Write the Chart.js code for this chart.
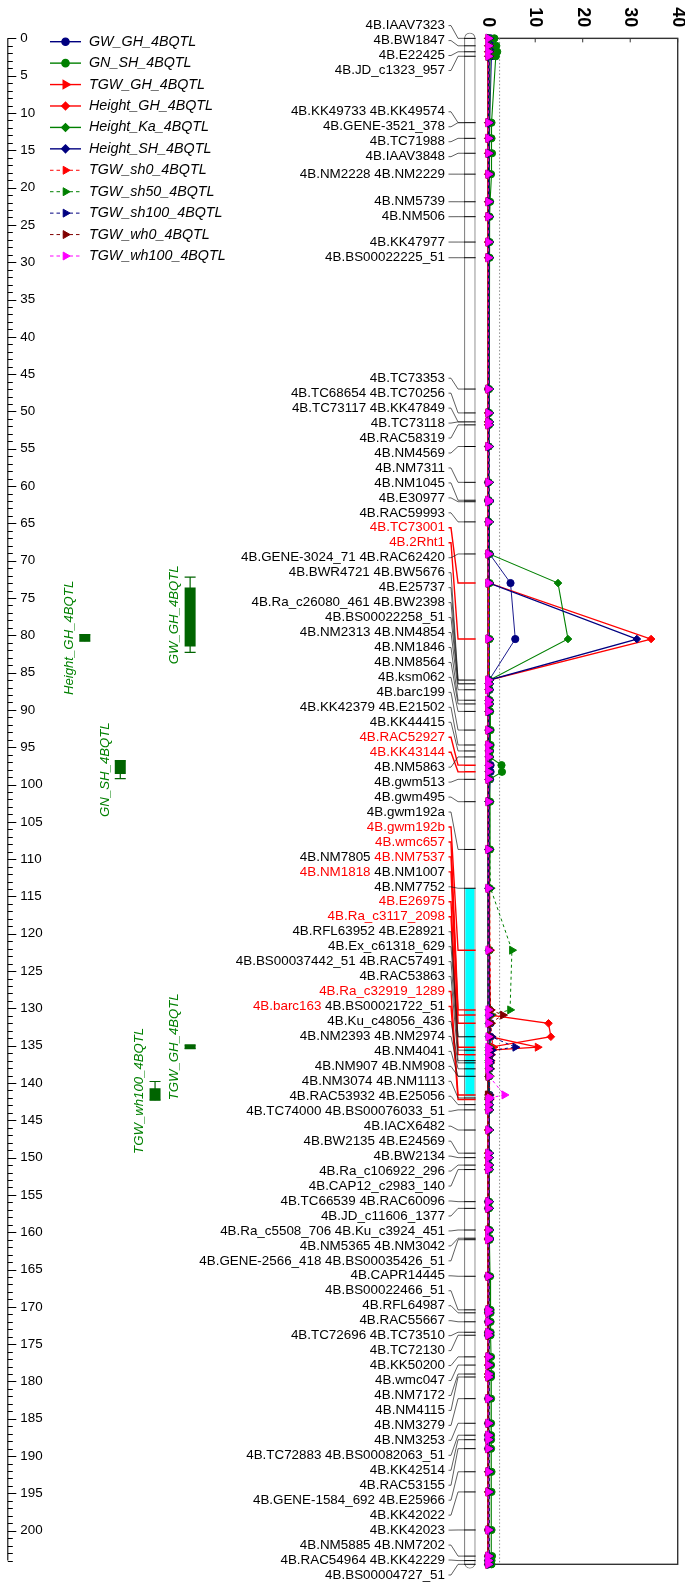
<!DOCTYPE html>
<html>
<head>
<meta charset="utf-8">
<script src="https://cdn.jsdelivr.net/npm/chart.js@4.4.1/dist/chart.umd.min.js"></script>
<style>
html, body { margin: 0; padding: 0; background: #fff; }
#wrap { position: relative; width: 685px; height: 1584px; }
</style>
</head>
<body>
<div id="wrap"><canvas id="map"></canvas></div>
<script>
// ---- marker label lines (top to bottom) and map position of each line (cM)
const markerLines = [
  ['4B.IAAV7323'], ['4B.BW1847'], ['4B.E22425'], ['4B.JD_c1323_957'],
  ['4B.KK49733', '4B.KK49574'], ['4B.GENE-3521_378'], ['4B.TC71988'], ['4B.IAAV3848'],
  ['4B.NM2228', '4B.NM2229'], ['4B.NM5739'], ['4B.NM506'], ['4B.KK47977'], ['4B.BS00022225_51'],
  ['4B.TC73353'], ['4B.TC68654', '4B.TC70256'], ['4B.TC73117', '4B.KK47849'], ['4B.TC73118'], ['4B.RAC58319'],
  ['4B.NM4569'], ['4B.NM7311'], ['4B.NM1045'], ['4B.E30977'], ['4B.RAC59993'],
  ['4B.TC73001'], ['4B.2Rht1'], ['4B.GENE-3024_71', '4B.RAC62420'], ['4B.BWR4721', '4B.BW5676'], ['4B.E25737'],
  ['4B.Ra_c26080_461', '4B.BW2398'], ['4B.BS00022258_51'], ['4B.NM2313', '4B.NM4854'], ['4B.NM1846'], ['4B.NM8564'],
  ['4B.ksm062'], ['4B.barc199'], ['4B.KK42379', '4B.E21502'], ['4B.KK44415'], ['4B.RAC52927'], ['4B.KK43144'],
  ['4B.NM5863'], ['4B.gwm513'], ['4B.gwm495'], ['4B.gwm192a'], ['4B.gwm192b'], ['4B.wmc657'],
  ['4B.NM7805', '4B.NM7537'], ['4B.NM1818', '4B.NM1007'], ['4B.NM7752'], ['4B.E26975'], ['4B.Ra_c3117_2098'],
  ['4B.RFL63952', '4B.E28921'], ['4B.Ex_c61318_629'], ['4B.BS00037442_51', '4B.RAC57491'], ['4B.RAC53863'],
  ['4B.Ra_c32919_1289'], ['4B.barc163', '4B.BS00021722_51'], ['4B.Ku_c48056_436'], ['4B.NM2393', '4B.NM2974'],
  ['4B.NM4041'], ['4B.NM907', '4B.NM908'], ['4B.NM3074', '4B.NM1113'], ['4B.RAC53932', '4B.E25056'],
  ['4B.TC74000', '4B.BS00076033_51'], ['4B.IACX6482'], ['4B.BW2135', '4B.E24569'], ['4B.BW2134'],
  ['4B.Ra_c106922_296'], ['4B.CAP12_c2983_140'], ['4B.TC66539', '4B.RAC60096'], ['4B.JD_c11606_1377'],
  ['4B.Ra_c5508_706', '4B.Ku_c3924_451'], ['4B.NM5365', '4B.NM3042'], ['4B.GENE-2566_418', '4B.BS00035426_51'],
  ['4B.CAPR14445'], ['4B.BS00022466_51'], ['4B.RFL64987'], ['4B.RAC55667'], ['4B.TC72696', '4B.TC73510'],
  ['4B.TC72130'], ['4B.KK50200'], ['4B.wmc047'], ['4B.NM7172'], ['4B.NM4115'], ['4B.NM3279'], ['4B.NM3253'],
  ['4B.TC72883', '4B.BS00082063_51'], ['4B.KK42514'], ['4B.RAC53155'], ['4B.GENE-1584_692', '4B.E25966'],
  ['4B.KK42022'], ['4B.KK42023'], ['4B.NM5885', '4B.NM7202'], ['4B.RAC54964', '4B.KK42229'], ['4B.BS00004727_51']
];
const markerCM = [
  0, 1.0, 1.8, 2.4, 11.3, 11.3, 13.4, 15.4, 18.2, 21.9, 23.9, 27.3, 29.4,
  47.0, 50.2, 51.4, 51.4, 51.8, 54.7, 59.5, 61.9, 62.1, 64.8,
  73.0, 80.5, 69.1, 86.0, 86.0, 86.5, 86.5, 87.3, 88.7, 89.2,
  90.2, 92.7, 94.7, 95.5, 97.4, 98.3, 96.3, 99.3, 102.3, 108.7,
  122.2, 130.2, 130.9, 132.0, 113.9, 135.2, 136.2, 133.8, 133.8, 135.6,
  137.0, 141.6, 142.2, 137.3, 138.1, 139.1, 139.1, 142.0, 142.9, 143.6,
  146.3, 149.4, 150.0, 151.0, 151.6, 155.9, 156.8, 159.7, 160.8, 161.0,
  165.9, 170.4, 170.8, 172.0, 173.4, 173.8, 176.7, 177.8, 179.0, 179.4,
  182.3, 185.6, 187.2, 187.8, 189.0, 192.1, 194.8, 199.9, 203.4, 204.0, 204.5
];
const redMarkers = ['4B.TC73001', '4B.2Rht1', '4B.RAC52927', '4B.KK43144', '4B.gwm192b', '4B.wmc657',
  '4B.NM7537', '4B.NM1818', '4B.E26975', '4B.Ra_c3117_2098', '4B.Ra_c32919_1289', '4B.barc163'];

// shaded QTL region on the chromosome (cM)
const qtlRegion = [113.9, 141.8];

// ---- QTL intervals (cM): box and support interval
const qtlNames  = ['Height_GH_4BQTL', 'GW_GH_4BQTL', 'GN_SH_4BQTL', 'TGW_GH_4BQTL', 'TGW_wh100_4BQTL'];
const qtlBoxFrom = [79.9, 73.6, 96.8, 134.9, 140.7];
const qtlBoxTo   = [80.8, 81.5, 98.6, 135.4, 142.3];
const qtlCiFrom  = [79.9, 72.2, 96.8, 134.9, 139.8];
const qtlCiTo    = [80.8, 82.3, 99.2, 135.4, 142.3];

// ---- LOD profiles, one value per scan position
const scanCM = [
  0, 1.0, 1.8, 2.4, 11.3, 13.4, 15.4, 18.2, 21.9, 23.9,
  27.3, 29.4, 47.0, 50.2, 51.4, 51.8, 54.7, 59.5, 61.9, 62.1,
  64.8, 69.1, 73.0, 80.5, 86.0, 86.5, 87.3, 88.7, 89.2, 90.2,
  92.7, 94.7, 95.5, 96.3, 97.4, 98.3, 99.3, 102.3, 108.7, 113.9,
  122.2, 130.2, 130.9, 132.0, 133.8, 135.2, 135.6, 136.2, 137.0, 137.3,
  138.1, 139.1, 141.6, 142.0, 142.2, 142.9, 143.6, 146.3, 149.4, 150.0,
  151.0, 151.6, 155.9, 156.8, 159.7, 160.8, 161.0, 165.9, 170.4, 170.8,
  172.0, 173.4, 173.8, 176.7, 177.8, 179.0, 179.4, 182.3, 185.6, 187.2,
  187.8, 189.0, 192.1, 194.8, 199.9, 203.4, 204.0, 204.5
];
const lodGW_GH = [
  0.6, 0.9, 1.0, 0.8, 0.4, 0.4, 0.3, 0.3, 0.2, 0.2,
  0.2, 0.2, 0.1, 0.2, 0.2, 0.2, 0.2, 0.1, 0.1, 0.2,
  0.2, 0.4, 4.8, 5.8, 0.3, 0.3, 0.4, 0.3, 0.3, 0.3,
  0.2, 0.3, 0.3, 0.4, 0.6, 0.6, 0.5, 0.3, 0.2, 0.2,
  0.3, 0.4, 0.5, 0.6, 0.6, 0.7, 0.6, 0.5, 0.4, 0.4,
  0.4, 0.3, 0.4, 0.4, 0.3, 0.3, 0.3, 0.2, 0.2, 0.2,
  0.2, 0.2, 0.1, 0.1, 0.2, 0.2, 0.2, 0.1, 0.1, 0.1,
  0.1, 0.1, 0.1, 0.2, 0.2, 0.2, 0.2, 0.1, 0.1, 0.1,
  0.1, 0.1, 0.2, 0.2, 0.1, 0.1, 0.1, 0.1
];
const lodGN_SH = [
  1.4, 1.8, 2.0, 1.7, 0.8, 0.8, 0.9, 0.7, 0.5, 0.4,
  0.4, 0.4, 0.3, 0.3, 0.3, 0.3, 0.2, 0.2, 0.2, 0.2,
  0.2, 0.3, 0.4, 0.4, 0.3, 0.3, 0.3, 0.4, 0.4, 0.5,
  0.6, 0.6, 0.5, 0.4, 2.9, 3.0, 0.4, 0.5, 0.5, 0.4,
  0.4, 0.4, 0.3, 0.3, 0.3, 0.3, 0.3, 0.3, 0.3, 0.3,
  0.3, 0.3, 0.2, 0.2, 0.2, 0.2, 0.2, 0.2, 0.2, 0.2,
  0.3, 0.3, 0.3, 0.3, 0.4, 0.4, 0.4, 0.5, 0.6, 0.6,
  0.6, 0.6, 0.6, 0.7, 0.7, 0.7, 0.7, 0.7, 0.7, 0.7,
  0.7, 0.7, 0.8, 0.8, 0.8, 0.9, 0.8, 0.8
];
const lodTGW_GH = [
  0.2, 0.2, 0.2, 0.2, 0.1, 0.1, 0.1, 0.1, 0.1, 0.1,
  0.1, 0.1, 0.1, 0.1, 0.1, 0.1, 0.1, 0.1, 0.1, 0.1,
  0.1, 0.1, 0.2, 0.2, 0.1, 0.1, 0.1, 0.1, 0.1, 0.1,
  0.1, 0.1, 0.1, 0.2, 0.2, 0.2, 0.2, 0.2, 0.2, 0.3,
  0.3, 0.4, 0.4, 0.5, 0.5, 10.5, 0.6, 0.4, 0.4, 0.3,
  0.3, 0.3, 0.2, 0.2, 0.2, 0.2, 0.2, 0.2, 0.1, 0.1,
  0.1, 0.1, 0.1, 0.1, 0.1, 0.1, 0.1, 0.1, 0.1, 0.1,
  0.1, 0.1, 0.1, 0.1, 0.1, 0.1, 0.1, 0.1, 0.1, 0.1,
  0.1, 0.1, 0.1, 0.1, 0.1, 0.1, 0.1, 0.1
];
const lodHeight_GH = [
  0.1, 0.1, 0.1, 0.1, 0.1, 0.1, 0.1, 0.1, 0.1, 0.1,
  0.1, 0.1, 0.1, 0.1, 0.1, 0.1, 0.1, 0.1, 0.1, 0.2,
  0.2, 0.2, 0.3, 34.4, 0.3, 0.2, 0.2, 0.2, 0.2, 0.2,
  0.2, 0.2, 0.2, 0.2, 0.2, 0.2, 0.2, 0.2, 0.2, 0.3,
  0.3, 0.5, 0.6, 12.8, 13.3, 0.5, 0.4, 0.3, 0.3, 0.3,
  0.3, 0.2, 0.2, 0.2, 0.2, 0.2, 0.2, 0.1, 0.1, 0.1,
  0.1, 0.1, 0.1, 0.1, 0.1, 0.1, 0.1, 0.1, 0.1, 0.1,
  0.1, 0.1, 0.1, 0.1, 0.1, 0.1, 0.1, 0.1, 0.1, 0.1,
  0.1, 0.1, 0.1, 0.1, 0.1, 0.1, 0.1, 0.1
];
const lodHeight_Ka = [
  0.4, 0.5, 0.5, 0.5, 0.4, 0.4, 0.4, 0.3, 0.3, 0.3,
  0.3, 0.3, 0.2, 0.2, 0.2, 0.2, 0.2, 0.2, 0.2, 0.3,
  0.3, 0.4, 14.8, 16.9, 0.4, 0.3, 0.3, 0.3, 0.3, 0.3,
  0.3, 0.3, 0.3, 0.3, 0.3, 0.3, 0.3, 0.2, 0.2, 0.2,
  0.2, 0.2, 0.2, 0.2, 0.2, 0.2, 0.2, 0.2, 0.2, 0.2,
  0.2, 0.2, 0.2, 0.2, 0.2, 0.2, 0.2, 0.2, 0.2, 0.2,
  0.2, 0.2, 0.2, 0.2, 0.2, 0.2, 0.2, 0.2, 0.2, 0.2,
  0.2, 0.2, 0.2, 0.2, 0.2, 0.2, 0.2, 0.2, 0.2, 0.2,
  0.2, 0.2, 0.2, 0.2, 0.2, 0.2, 0.2, 0.2
];
const lodHeight_SH = [
  0.2, 0.2, 0.2, 0.2, 0.2, 0.2, 0.2, 0.2, 0.2, 0.2,
  0.2, 0.2, 0.2, 0.2, 0.2, 0.2, 0.2, 0.2, 0.2, 0.2,
  0.2, 0.2, 0.3, 31.4, 0.3, 0.2, 0.2, 0.2, 0.2, 0.2,
  0.2, 0.2, 0.2, 0.2, 0.2, 0.2, 0.2, 0.2, 0.2, 0.2,
  0.3, 0.3, 0.3, 0.3, 0.3, 0.3, 0.3, 0.3, 0.3, 0.3,
  0.3, 0.3, 0.3, 0.3, 0.3, 0.3, 0.3, 0.3, 0.3, 0.3,
  0.2, 0.2, 0.2, 0.2, 0.2, 0.2, 0.2, 0.2, 0.2, 0.2,
  0.2, 0.2, 0.2, 0.2, 0.2, 0.2, 0.2, 0.2, 0.2, 0.2,
  0.2, 0.2, 0.2, 0.2, 0.2, 0.2, 0.2, 0.2
];
const lodTGW_sh0 = [
  0.3, 0.4, 0.4, 0.4, 0.3, 0.3, 0.3, 0.3, 0.2, 0.2,
  0.2, 0.2, 0.2, 0.2, 0.2, 0.2, 0.2, 0.2, 0.2, 0.2,
  0.2, 0.2, 0.2, 0.2, 0.2, 0.2, 0.2, 0.2, 0.2, 0.2,
  0.2, 0.2, 0.2, 0.3, 0.3, 0.3, 0.3, 0.3, 0.3, 0.4,
  0.5, 0.6, 0.9, 0.7, 0.8, 1.2, 0.8, 0.7, 0.6, 0.5,
  0.5, 0.4, 0.4, 0.4, 0.4, 0.3, 0.3, 0.3, 0.2, 0.2,
  0.2, 0.2, 0.2, 0.2, 0.2, 0.2, 0.2, 0.2, 0.2, 0.2,
  0.2, 0.2, 0.2, 0.2, 0.2, 0.2, 0.2, 0.2, 0.2, 0.2,
  0.2, 0.2, 0.2, 0.2, 0.2, 0.2, 0.2, 0.2
];
const lodTGW_sh50 = [
  0.3, 0.3, 0.3, 0.3, 0.3, 0.3, 0.3, 0.3, 0.3, 0.3,
  0.3, 0.3, 0.3, 0.3, 0.3, 0.3, 0.3, 0.3, 0.3, 0.3,
  0.3, 0.3, 0.3, 0.3, 0.3, 0.3, 0.3, 0.3, 0.3, 0.3,
  0.3, 0.3, 0.3, 0.3, 0.3, 0.3, 0.3, 0.4, 0.4, 0.6,
  5.1, 4.7, 0.7, 0.6, 0.5, 0.5, 0.5, 0.4, 0.4, 0.4,
  0.4, 0.4, 0.3, 0.3, 0.3, 0.3, 0.3, 0.3, 0.3, 0.3,
  0.3, 0.3, 0.3, 0.3, 0.3, 0.3, 0.3, 0.3, 0.3, 0.3,
  0.3, 0.3, 0.3, 0.3, 0.3, 0.3, 0.3, 0.3, 0.3, 0.3,
  0.3, 0.3, 0.3, 0.3, 0.3, 0.3, 0.3, 0.3
];
const lodTGW_sh100 = [
  0.3, 0.3, 0.3, 0.3, 0.3, 0.3, 0.3, 0.3, 0.3, 0.3,
  0.3, 0.3, 0.3, 0.3, 0.3, 0.3, 0.3, 0.3, 0.3, 0.3,
  0.3, 0.3, 0.3, 0.3, 0.3, 0.3, 0.3, 0.3, 0.3, 0.3,
  0.3, 0.3, 0.3, 0.3, 0.3, 0.3, 0.3, 0.3, 0.3, 0.3,
  0.3, 0.3, 0.4, 0.5, 0.8, 5.8, 0.9, 0.6, 0.5, 0.4,
  0.4, 0.3, 0.3, 0.3, 0.3, 0.3, 0.3, 0.3, 0.3, 0.3,
  0.3, 0.3, 0.3, 0.3, 0.3, 0.3, 0.3, 0.3, 0.3, 0.3,
  0.3, 0.3, 0.3, 0.3, 0.3, 0.3, 0.3, 0.3, 0.3, 0.3,
  0.3, 0.3, 0.3, 0.3, 0.3, 0.3, 0.3, 0.3
];
const lodTGW_wh0 = [
  0.1, 0.1, 0.1, 0.1, 0.1, 0.1, 0.1, 0.1, 0.1, 0.1,
  0.1, 0.1, 0.1, 0.1, 0.1, 0.1, 0.1, 0.1, 0.1, 0.1,
  0.1, 0.1, 0.1, 0.1, 0.1, 0.1, 0.1, 0.1, 0.1, 0.1,
  0.1, 0.1, 0.1, 0.1, 0.1, 0.1, 0.1, 0.1, 0.1, 0.1,
  0.2, 0.6, 3.2, 0.5, 0.3, 0.2, 0.2, 0.2, 0.1, 0.1,
  0.1, 0.1, 0.0, 0.1, 0.1, 0.1, 0.1, 0.1, 0.1, 0.1,
  0.1, 0.1, 0.1, 0.1, 0.1, 0.1, 0.1, 0.1, 0.1, 0.1,
  0.1, 0.1, 0.1, 0.1, 0.1, 0.1, 0.1, 0.1, 0.1, 0.1,
  0.1, 0.1, 0.1, 0.1, 0.1, 0.1, 0.1, 0.1
];
const lodTGW_wh100 = [
  0.1, 0.1, 0.1, 0.1, 0.1, 0.1, 0.1, 0.1, 0.1, 0.1,
  0.1, 0.1, 0.1, 0.1, 0.1, 0.1, 0.1, 0.1, 0.1, 0.1,
  0.1, 0.1, 0.1, 0.1, 0.1, 0.1, 0.1, 0.1, 0.1, 0.1,
  0.1, 0.1, 0.1, 0.1, 0.1, 0.1, 0.1, 0.1, 0.1, 0.1,
  0.1, 0.1, 0.1, 0.1, 0.1, 0.1, 0.1, 0.1, 0.1, 0.1,
  0.1, 0.3, 3.5, 0.4, 0.1, 0.1, 0.1, 0.1, 0.1, 0.1,
  0.1, 0.1, 0.1, 0.1, 0.1, 0.1, 0.1, 0.1, 0.1, 0.1,
  0.1, 0.1, 0.1, 0.1, 0.1, 0.1, 0.1, 0.1, 0.1, 0.1,
  0.1, 0.1, 0.1, 0.1, 0.1, 0.1, 0.1, 0.1
];
const lodThreshold = 2.5;

// axis ticks
const cmTickValues = Array.from({length: 41}, (_, i) => i * 5);
const lodTickValues = [0, 10, 20, 30, 40];

// ---- layout / style
const FONT = '"Liberation Sans", Arial, sans-serif';
const W = 685;
const PAD = {left: 3, right: 7.3, top: 8.5, bottom: 8.5};
const LOD_X0 = 486.5;              // canvas x of LOD 0
const LOD_MAX = 40;
const PX_PER_LOD = (W - PAD.right - LOD_X0) / LOD_MAX;
const CHROM_X = 468.5, CHROM_W = 11.6;
const LABEL_RIGHT = 445, LABEL_GAP = 14.96;
const QTL_COLS = [81, 187, 116.7, 187, 151.7];
const QTL_GREEN = '#006400', QTL_TEXT = '#008000';
const LEGEND = {x: 50, textX: 89, top: 41.7, step: 21.43};

const series = [
  {name: 'GW_GH_4BQTL',      lod: lodGW_GH,      color: '#000080', style: 'circle',   r: 3.6, rot: 0,  dash: false, lw: 0.9},
  {name: 'GN_SH_4BQTL',      lod: lodGN_SH,      color: '#008000', style: 'circle',   r: 3.6, rot: 0,  dash: false, lw: 1.1},
  {name: 'TGW_GH_4BQTL',     lod: lodTGW_GH,     color: '#ff0000', style: 'triangle', r: 4.6, rot: 90, dash: false, lw: 1.3},
  {name: 'Height_GH_4BQTL',  lod: lodHeight_GH,  color: '#ff0000', style: 'rectRot',  r: 3.8, rot: 0,  dash: false, lw: 1.3},
  {name: 'Height_Ka_4BQTL',  lod: lodHeight_Ka,  color: '#008000', style: 'rectRot',  r: 3.8, rot: 0,  dash: false, lw: 1.1},
  {name: 'Height_SH_4BQTL',  lod: lodHeight_SH,  color: '#000080', style: 'rectRot',  r: 3.8, rot: 0,  dash: false, lw: 1.3},
  {name: 'TGW_sh0_4BQTL',    lod: lodTGW_sh0,    color: '#ff0000', style: 'triangle', r: 4.6, rot: 90, dash: true,  lw: 1},
  {name: 'TGW_sh50_4BQTL',   lod: lodTGW_sh50,   color: '#008000', style: 'triangle', r: 4.6, rot: 90, dash: true,  lw: 1},
  {name: 'TGW_sh100_4BQTL',  lod: lodTGW_sh100,  color: '#000080', style: 'triangle', r: 4.6, rot: 90, dash: true,  lw: 1},
  {name: 'TGW_wh0_4BQTL',    lod: lodTGW_wh0,    color: '#800000', style: 'triangle', r: 4.6, rot: 90, dash: true,  lw: 1},
  {name: 'TGW_wh100_4BQTL',  lod: lodTGW_wh100,  color: '#ff00ff', style: 'triangle', r: 4.6, rot: 90, dash: true,  lw: 1}
];

const redSet = new Set(redMarkers);
const mapStart = Math.min(...markerCM), mapEnd = Math.max(...markerCM);

// unique marker positions for the ticks across the chromosome
const tickPos = [];
markerLines.forEach((names, i) => {
  const c = markerCM[i];
  let t = tickPos.find(p => p.cm === c);
  if (!t) { t = {cm: c, red: false}; tickPos.push(t); }
  if (names.some(n => redSet.has(n))) t.red = true;
});

// push overlapping labels apart, keeping each group centred on its markers
function spreadLabels(targets, gap, lo, hi) {
  const groups = [];
  targets.forEach(t => {
    let g = {n: 1, sum: t, top: Math.min(Math.max(t, lo), hi)};
    while (groups.length) {
      const p = groups[groups.length - 1];
      if (p.top + p.n * gap <= g.top + 0.01) break;
      groups.pop();
      const n = p.n + g.n;
      const sum = p.sum + g.sum - g.n * p.n * gap;
      g = {n, sum, top: Math.min(Math.max(sum / n, lo), hi - (n - 1) * gap)};
    }
    groups.push(g);
  });
  const out = [];
  groups.forEach(g => { for (let k = 0; k < g.n; k++) out.push(g.top + k * gap); });
  return out;
}

const datasets = [];

// chromosome body, shaded region and marker ticks
datasets.push({
  type: 'bar', xAxisID: 'xc', yAxisID: 'y', grouped: false, order: 100,
  data: [{x: CHROM_X, y: [mapStart - 0.8, mapEnd + 0.6]}],
  backgroundColor: '#ffffff', borderColor: '#808080', borderWidth: 1.3,
  borderSkipped: false, borderRadius: 6, maxBarThickness: CHROM_W
});
datasets.push({
  type: 'bar', xAxisID: 'xc', yAxisID: 'y', grouped: false, order: 99,
  data: [{x: CHROM_X, y: qtlRegion}],
  backgroundColor: '#00ffff', borderWidth: 0, maxBarThickness: CHROM_W - 2.6
});
datasets.push({
  type: 'scatter', xAxisID: 'xc', yAxisID: 'y', order: 98,
  data: tickPos.map(p => ({x: CHROM_X, y: p.cm})),
  pointStyle: 'line', pointRadius: CHROM_W / 2,
  pointBorderColor: tickPos.map(p => p.red ? '#ff0000' : '#000000'),
  pointBorderWidth: tickPos.map(p => p.red ? 1.5 : 1)
});

// QTL boxes and support intervals
qtlNames.forEach((n, i) => {
  datasets.push({
    type: 'scatter', xAxisID: 'xc', yAxisID: 'y', order: 51, showLine: true,
    data: [{x: QTL_COLS[i], y: qtlCiFrom[i]}, {x: QTL_COLS[i], y: qtlCiTo[i]}],
    borderColor: QTL_GREEN, borderWidth: 1.2,
    pointStyle: 'line', pointRadius: 5.5, pointBorderColor: QTL_GREEN, pointBorderWidth: 1.2
  });
});
datasets.push({
  type: 'bar', xAxisID: 'xc', yAxisID: 'y', grouped: false, order: 50,
  data: qtlNames.map((n, i) => ({x: QTL_COLS[i], y: [qtlBoxFrom[i], qtlBoxTo[i]]})),
  backgroundColor: QTL_GREEN, borderWidth: 0, maxBarThickness: 11
});

// threshold line
datasets.push({
  type: 'scatter', xAxisID: 'x', yAxisID: 'y', order: 60, showLine: true,
  data: [{x: lodThreshold, y: 0}, {x: lodThreshold, y: mapEnd}],
  borderColor: '#8c8c8c', borderWidth: 1, borderDash: [1.5, 2], pointRadius: 0
});

// LOD profiles, later series on top
series.forEach((s, i) => {
  datasets.push({
    type: 'scatter', label: s.name, xAxisID: 'x', yAxisID: 'y', order: 20 - i, showLine: true,
    data: scanCM.map((c, k) => ({x: s.lod[k], y: c})),
    borderColor: s.color, backgroundColor: s.color, borderWidth: s.lw,
    borderDash: s.dash ? [3, 3] : [],
    pointStyle: s.style, pointRadius: s.r, pointRotation: s.rot,
    pointBackgroundColor: s.color, pointBorderColor: s.color, pointBorderWidth: 1
  });
});

const mapPlugin = {
  id: 'mapDecor',
  beforeDatasetsDraw(chart) {
    const {ctx, chartArea} = chart;
    const y = chart.scales.y, x = chart.scales.x, xc = chart.scales.xc;
    ctx.save();

    // LOD frame and top ticks
    const fx0 = x.getPixelForValue(0), fx1 = x.getPixelForValue(LOD_MAX);
    const fy0 = y.getPixelForValue(0), fy1 = y.getPixelForValue(mapEnd);
    ctx.strokeStyle = '#333';
    ctx.lineWidth = 1.4;
    ctx.strokeRect(fx0, fy0, fx1 - fx0, fy1 - fy0);
    ctx.lineWidth = 1;
    lodTickValues.forEach(v => {
      const px = x.getPixelForValue(v);
      ctx.beginPath(); ctx.moveTo(px, fy0); ctx.lineTo(px, fy0 + 4); ctx.stroke();
    });

    // cM axis line and ticks
    const ax = y.right + 0.5;
    ctx.strokeStyle = '#000';
    ctx.lineWidth = 1.1;
    ctx.beginPath(); ctx.moveTo(ax, y.getPixelForValue(0)); ctx.lineTo(ax, y.getPixelForValue(204)); ctx.stroke();
    ctx.lineWidth = 1;
    for (let v = 0; v <= 204; v++) {
      const py = Math.round(y.getPixelForValue(v)) + 0.5;
      ctx.beginPath(); ctx.moveTo(ax, py); ctx.lineTo(ax + (v % 5 === 0 ? 8.5 : 5), py); ctx.stroke();
    }

    // marker labels and connectors
    const targets = markerCM.map(c => y.getPixelForValue(c));
    const ly = spreadLabels(targets, LABEL_GAP, chartArea.top + 8, chartArea.bottom - 0.5);
    const chromLeft = xc.getPixelForValue(CHROM_X) - CHROM_W / 2;
    ctx.font = '13.4px ' + FONT;
    ctx.textAlign = 'right';
    ctx.textBaseline = 'middle';
    const space = ctx.measureText(' ').width;
    markerLines.forEach((names, i) => {
      let xr = LABEL_RIGHT;
      for (let k = names.length - 1; k >= 0; k--) {
        ctx.fillStyle = redSet.has(names[k]) ? '#ff0000' : '#000000';
        ctx.fillText(names[k], xr, ly[i]);
        xr -= ctx.measureText(names[k]).width + space;
      }
      const red = names.some(n => redSet.has(n));
      const my = targets[i];
      ctx.strokeStyle = red ? '#ff0000' : '#1a1a1a';
      ctx.lineWidth = red ? 1.4 : 0.7;
      ctx.beginPath();
      ctx.moveTo(LABEL_RIGHT + 3.5, ly[i]);
      ctx.lineTo(LABEL_RIGHT + 6, ly[i]);
      ctx.lineTo(chromLeft - 6, my);
      ctx.lineTo(chromLeft, my);
      ctx.stroke();
    });
    ctx.restore();
  },
  afterDatasetsDraw(chart) {
    const {ctx} = chart;
    const y = chart.scales.y, x = chart.scales.x, xc = chart.scales.xc;
    ctx.save();

    // LOD tick labels, turned to read downwards
    const fy0 = y.getPixelForValue(0);
    ctx.fillStyle = '#000';
    ctx.font = 'bold 18px ' + FONT;
    ctx.textAlign = 'right';
    ctx.textBaseline = 'middle';
    lodTickValues.forEach(v => {
      ctx.save();
      ctx.translate(x.getPixelForValue(v), fy0 - 11);
      ctx.rotate(Math.PI / 2);
      ctx.fillText(String(v), 0, 0);
      ctx.restore();
    });

    // QTL names beside their boxes
    ctx.fillStyle = QTL_TEXT;
    ctx.font = 'italic 13.2px ' + FONT;
    ctx.textAlign = 'center';
    qtlNames.forEach((n, i) => {
      const mid = y.getPixelForValue((qtlCiFrom[i] + qtlCiTo[i]) / 2);
      ctx.save();
      ctx.translate(xc.getPixelForValue(QTL_COLS[i]) - 15.3, mid);
      ctx.rotate(-Math.PI / 2);
      ctx.fillText(n, 0, 0);
      ctx.restore();
    });

    // legend
    ctx.font = 'italic 14.3px ' + FONT;
    ctx.textAlign = 'left';
    series.forEach((s, i) => {
      const yy = LEGEND.top + i * LEGEND.step;
      ctx.strokeStyle = s.color;
      ctx.lineWidth = s.dash ? 1 : 1.4;
      ctx.setLineDash(s.dash ? [3.5, 3] : []);
      ctx.beginPath(); ctx.moveTo(LEGEND.x, yy); ctx.lineTo(LEGEND.x + 31, yy); ctx.stroke();
      ctx.setLineDash([]);
      ctx.fillStyle = s.color;
      Chart.helpers.drawPoint(ctx, {pointStyle: s.style, radius: s.r, rotation: s.rot, borderWidth: 1}, LEGEND.x + 15.5, yy);
      ctx.fillStyle = '#000';
      ctx.fillText(s.name, LEGEND.textX, yy);
    });
    ctx.restore();
  }
};

new Chart(document.getElementById('map'), {
  type: 'scatter',
  data: {datasets},
  options: {
    responsive: true,
    maintainAspectRatio: false,
    devicePixelRatio: 1,
    animation: false,
    events: [],
    layout: {padding: PAD},
    plugins: {legend: {display: false}, tooltip: {enabled: false}},
    scales: {
      x: {
        type: 'linear', axis: 'x', display: false, offset: false,
        min: -(LOD_X0 - PAD.left) / PX_PER_LOD, max: LOD_MAX
      },
      xc: {
        type: 'linear', axis: 'x', display: false, offset: false,
        min: PAD.left, max: W - PAD.right
      },
      y: {
        type: 'linear', position: 'left', reverse: true, min: -4, max: 206, offset: false,
        afterFit: s => { s.width = 0; s.paddingTop = 0; s.paddingBottom = 0; },
        afterBuildTicks: s => { s.ticks = cmTickValues.map(v => ({value: v})); },
        grid: {display: false, drawTicks: false},
        border: {display: false},
        ticks: {
          mirror: true, padding: 13, autoSkip: false, color: '#000',
          font: {family: FONT, size: 13.4},
          callback: v => String(v)
        }
      }
    }
  },
  plugins: [mapPlugin]
});
</script>
</body>
</html>
